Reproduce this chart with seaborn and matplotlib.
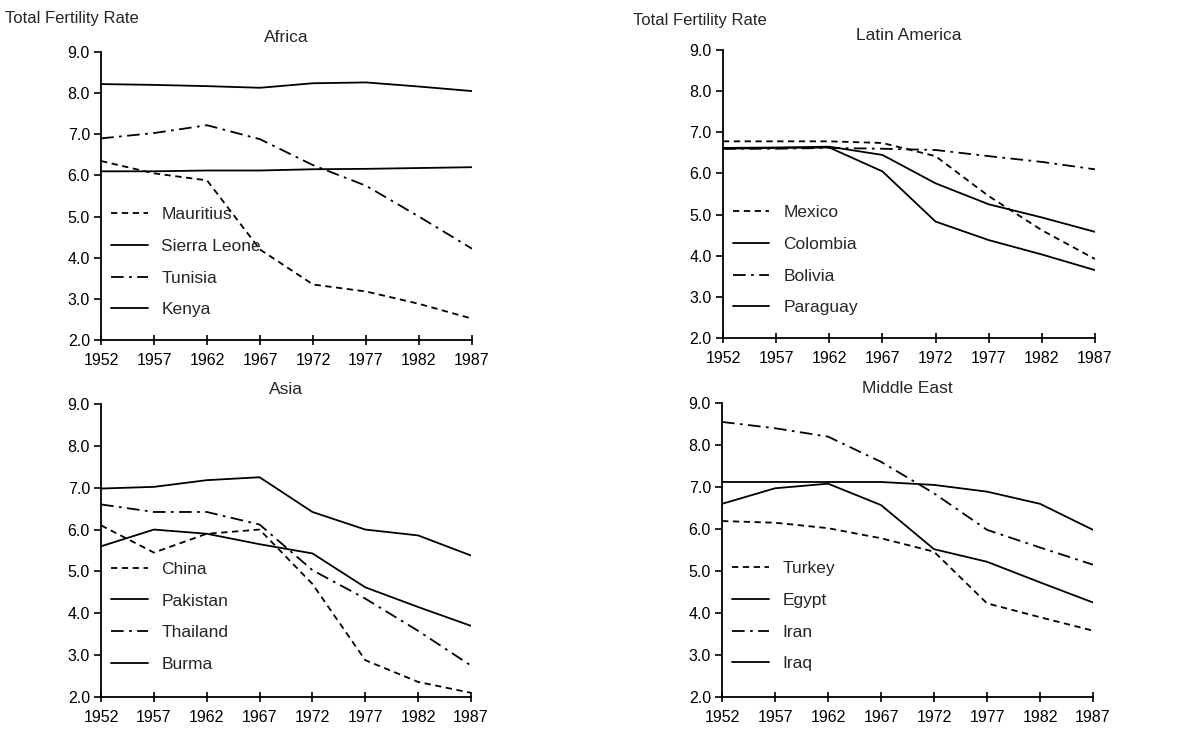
import matplotlib
matplotlib.use("Agg")
import matplotlib.pyplot as plt
import numpy as np
import pandas as pd
import seaborn as sns

sns.set_style("ticks")
plt.rcParams['font.family'] = ['Liberation Sans', 'DejaVu Sans']

years = [1952, 1957, 1962, 1967, 1972, 1977, 1982, 1987]
xticks = [1952, 1957, 1962, 1967, 1972, 1977, 1982, 1987]
yticks = [2.0, 3.0, 4.0, 5.0, 6.0, 7.0, 8.0, 9.0]

# Africa
africa_names = ["Mauritius", "Sierra Leone", "Tunisia", "Kenya"]
mauritius = [6.35, 6.05, 5.88, 4.2, 3.35, 3.18, 2.88, 2.52]
sierra_leone = [6.1, 6.1, 6.12, 6.12, 6.15, 6.16, 6.18, 6.2]
tunisia = [6.9, 7.03, 7.22, 6.88, 6.25, 5.75, 5.0, 4.22]
kenya = [8.22, 8.2, 8.17, 8.13, 8.24, 8.26, 8.16, 8.05]

# Latin America
latin_names = ["Mexico", "Colombia", "Bolivia", "Paraguay"]
mexico = [6.78, 6.78, 6.78, 6.74, 6.42, 5.45, 4.62, 3.92]
colombia = [6.62, 6.63, 6.65, 6.45, 5.76, 5.25, 4.93, 4.58]
bolivia = [6.6, 6.6, 6.62, 6.6, 6.57, 6.42, 6.28, 6.1]
paraguay = [6.6, 6.62, 6.63, 6.05, 4.83, 4.38, 4.03, 3.65]

# Asia
asia_names = ["China", "Pakistan", "Thailand", "Burma"]
china = [6.1, 5.45, 5.9, 6.0, 4.7, 2.88, 2.36, 2.1]
pakistan = [6.98, 7.02, 7.18, 7.25, 6.42, 6.0, 5.86, 5.38]
thailand = [6.6, 6.42, 6.42, 6.12, 5.03, 4.35, 3.58, 2.75]
burma = [5.6, 6.0, 5.9, 5.65, 5.43, 4.62, 4.15, 3.7]

# Middle East
mideast_names = ["Turkey", "Egypt", "Iran", "Iraq"]
turkey = [6.19, 6.15, 6.02, 5.78, 5.46, 4.23, 3.9, 3.58]
egypt = [7.12, 7.12, 7.12, 7.12, 7.05, 6.89, 6.6, 5.98]
iran = [8.55, 8.4, 8.2, 7.6, 6.85, 5.98, 5.56, 5.15]
iraq = [6.6, 6.97, 7.08, 6.57, 5.52, 5.22, 4.73, 4.25]

styles = ["dashed", "solid", "dashdot", "solid"]
dash_map = {"dashed": (3.5, 2.5), "solid": "", "dashdot": (7, 3, 1.5, 3)}

panels = [
    ("Africa", africa_names, [mauritius, sierra_leone, tunisia, kenya],
     [0.0845, 0.5342, 0.3101, 0.3946]),
    ("Latin America", latin_names, [mexico, colombia, bolivia, paraguay],
     [0.6045, 0.5370, 0.3110, 0.3945]),
    ("Asia", asia_names, [china, pakistan, thailand, burma],
     [0.0845, 0.0452, 0.3093, 0.4014]),
    ("Middle East", mideast_names, [turkey, egypt, iran, iraq],
     [0.6037, 0.0452, 0.3102, 0.4027]),
]

fig = plt.figure(figsize=(11.96, 7.30), dpi=100)

for title, names, series, rect in panels:
    ax = fig.add_axes(rect)
    rows = []
    for name, vals in zip(names, series):
        for yr, v in zip(years, vals):
            rows.append((name, yr, v))
    df = pd.DataFrame(rows, columns=["country", "year", "tfr"])
    dashes = {n: dash_map[s] for n, s in zip(names, styles)}
    sns.lineplot(data=df, x="year", y="tfr", style="country",
                 style_order=names, dashes=dashes, color="black",
                 linewidth=1.3, ax=ax)
    ax.lines[-1].set_linewidth(1.6)
    ax.set_xlim(1952, 1987)
    ax.set_ylim(2.0, 9.0)
    ax.set_xticks(xticks)
    ax.set_yticks(yticks)
    ax.set_yticklabels(["%.1f" % t for t in yticks])
    ax.set_xlabel("")
    ax.set_ylabel("")
    sns.despine(ax=ax)
    for sp in ["left", "bottom"]:
        ax.spines[sp].set_linewidth(1.3)
        ax.spines[sp].set_color("black")
    ax.tick_params(axis="x", direction="inout", length=7, width=1.2,
                   labelsize=11.5, colors="black", pad=6)
    ax.tick_params(axis="y", direction="out", length=5, width=1.2,
                   labelsize=11.5, colors="black", pad=3)
    ax.set_title(title, fontsize=12.5, pad=7)
    leg = ax.legend(frameon=False, loc="upper left",
                    bbox_to_anchor=(-0.015, 0.515), fontsize=12.5,
                    handlelength=2.1, handletextpad=0.8, labelspacing=0.95)
    for ln in leg.get_lines():
        ln.set_linewidth(1.3)

fig.text(0.004, 0.975, "Total Fertility Rate", fontsize=12, va="center")
fig.text(0.529, 0.972, "Total Fertility Rate", fontsize=12, va="center")

fig.savefig("out.png", dpi=100)
